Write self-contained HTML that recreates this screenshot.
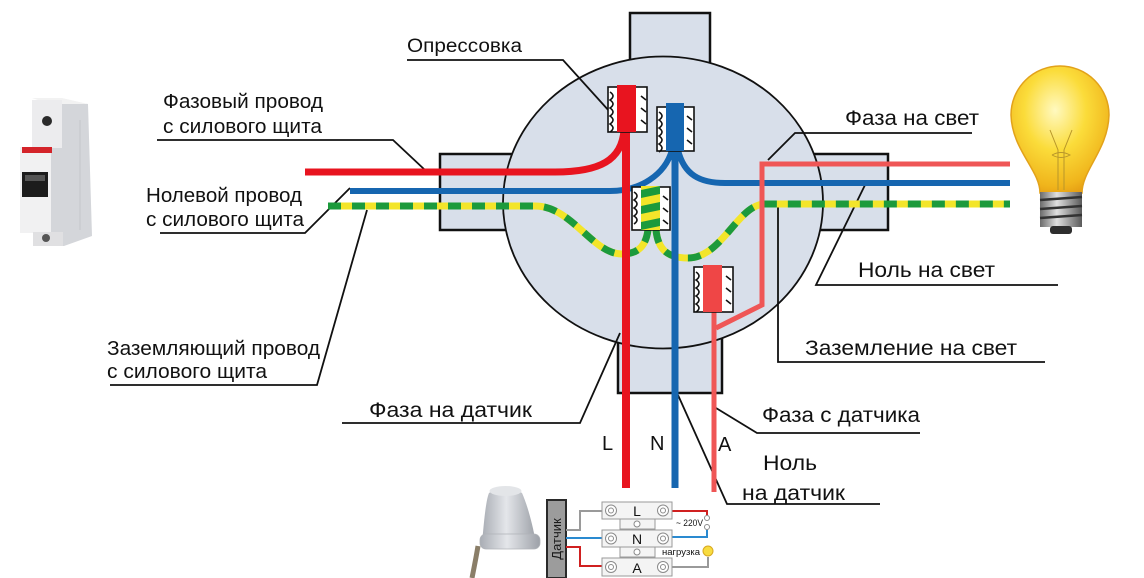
<!DOCTYPE html>
<html><head><meta charset="utf-8"><style>
html,body{margin:0;padding:0;background:#fff;}
svg{display:block;}
text{font-family:"Liberation Sans",Arial,sans-serif;fill:#111;}
</style></head><body>
<svg width="1144" height="578" viewBox="0 0 1144 578" xmlns="http://www.w3.org/2000/svg">
<defs>
<radialGradient id="bulbG" cx="0.45" cy="0.35" r="0.7">
<stop offset="0" stop-color="#fff9c0"/><stop offset="0.45" stop-color="#fbdc3a"/><stop offset="0.85" stop-color="#f0b51c"/><stop offset="1" stop-color="#e49a12"/>
</radialGradient>
<linearGradient id="baseG" x1="0" x2="1"><stop offset="0" stop-color="#6b6b6b"/><stop offset="0.4" stop-color="#e0e0e0"/><stop offset="1" stop-color="#5a5a5a"/></linearGradient>
<linearGradient id="capG" x1="0" x2="1"><stop offset="0" stop-color="#a9adb4"/><stop offset="0.45" stop-color="#e4e6ea"/><stop offset="1" stop-color="#9da1a8"/></linearGradient>
</defs>
<rect width="1144" height="578" fill="#fff"/>

<!-- Breaker -->
<polygon points="50,100 88,104 92,236 64,246 50,246" fill="#d4d6da"/>
<polygon points="32,98 62,98 88,104 50,104" fill="#f2f2f2"/>
<rect x="32" y="100" width="30" height="48" fill="#ececee"/>
<circle cx="47" cy="121" r="5" fill="#2a2a2a"/>
<rect x="20" y="147" width="31" height="86" fill="#f1f1f2"/>
<rect x="22" y="147" width="30" height="6" fill="#d4242a"/>
<rect x="22" y="172" width="26" height="25" fill="#1c1c1c"/>
<rect x="25" y="175" width="20" height="6" fill="#555"/>
<rect x="33" y="232" width="30" height="14" fill="#e0e0e2"/>
<circle cx="46" cy="238" r="4" fill="#555"/>
<line x1="80" y1="120" x2="80" y2="230" stroke="#c4c6ca" stroke-width="1"/>

<!-- Box rectangles -->
<rect x="630" y="13" width="80" height="80" fill="#d8dfea" stroke="#111" stroke-width="2.5"/>
<rect x="440" y="154" width="110" height="76" fill="#d8dfea" stroke="#111" stroke-width="2.5"/>
<rect x="780" y="154" width="108" height="76" fill="#d8dfea" stroke="#111" stroke-width="2.5"/>
<rect x="618" y="290" width="104" height="103" fill="#d8dfea" stroke="#111" stroke-width="2.5"/>
<ellipse cx="663" cy="202.5" rx="160" ry="146" fill="#d8dfea" stroke="#111" stroke-width="1.8"/>

<!-- Leader lines -->
<g fill="none" stroke="#111" stroke-width="1.8">
<polyline points="407,60 563,60 610,112"/>
<polyline points="157,140 393,140 425,170"/>
<polyline points="160,233 305,233 350,188"/>
<polyline points="110,385 317,385 367,210"/>
<polyline points="972,133 795,133 768,160"/>
<polyline points="1058,285 816,285 865,185"/>
<polyline points="1045,362 778,362 778,207"/>
<polyline points="342,423 580,423 620,333"/>
<polyline points="920,433 757,433 716,408"/>
<polyline points="880,504 727,504 678,395"/>
</g>

<!-- Wires -->
<g fill="none" stroke-linecap="butt">
<path d="M328,206 H535 C572,206 592,254 622,254 C640,254 646,244 648,230" stroke="#f3e52a" stroke-width="7"/>
<path d="M328,206 H535 C572,206 592,254 622,254 C640,254 646,244 648,230" stroke="#1c9a3c" stroke-width="7" stroke-dasharray="13,11"/>
<path d="M656,230 C658,250 668,258 688,258 C722,258 738,204 765,204 H1010" stroke="#f3e52a" stroke-width="7"/>
<path d="M656,230 C658,250 668,258 688,258 C722,258 738,204 765,204 H1010" stroke="#1c9a3c" stroke-width="7" stroke-dasharray="13,11"/>
<path d="M350,191 H610 C640,191 665,175 672,150" stroke="#1666b0" stroke-width="6"/>
<path d="M678,150 C684,175 700,183 725,183 H1010" stroke="#1666b0" stroke-width="6"/>
<path d="M305,172 H555 C600,172 622,160 624,130" stroke="#e8141f" stroke-width="7"/>
<line x1="626" y1="90" x2="626" y2="488" stroke="#e8141f" stroke-width="8"/>
<line x1="675" y1="110" x2="675" y2="488" stroke="#1666b0" stroke-width="7"/>
<line x1="714" y1="300" x2="714" y2="492" stroke="#ef5656" stroke-width="5"/>
<path d="M716,328 L762,305 V164 H1010" stroke="#ef5656" stroke-width="5"/>
</g>

<!-- Crimps -->
<g stroke="#111" stroke-width="1.6">
<rect x="608" y="87" width="39" height="45" fill="#fff"/>
<rect x="657" y="107" width="37" height="44" fill="#fff"/>
<rect x="632" y="187" width="38" height="43" fill="#fff"/>
<rect x="694" y="267" width="39" height="45" fill="#fff"/>
</g>
<g fill="none" stroke="#111" stroke-width="1.6">
<path d="M610,92 q6,4 0,8 q6,4 0,8 q6,4 0,8 q6,4 0,8 q6,4 0,8"/>
<path d="M641,96 l5,4 M641,108 l5,4 M641,120 l5,4"/>
<path d="M659,112 q6,4 0,8 q6,4 0,8 q6,4 0,8 q6,4 0,8 q6,4 0,8"/>
<path d="M687,116 l5,4 M687,128 l5,4 M687,140 l5,4"/>
<path d="M634,192 q6,4 0,8 q6,4 0,8 q6,4 0,8 q6,4 0,8"/>
<path d="M663,196 l5,4 M663,208 l5,4 M663,220 l5,4"/>
<path d="M696,272 q6,4 0,8 q6,4 0,8 q6,4 0,8 q6,4 0,8 q6,4 0,8"/>
<path d="M726,276 l5,4 M726,288 l5,4 M726,300 l5,4"/>
</g>
<rect x="617" y="85" width="19" height="47" fill="#e8141f"/>
<rect x="666" y="103" width="18" height="48" fill="#1666b0"/>
<rect x="641" y="186" width="19" height="44" fill="#f3e52a"/>
<path d="M641,190 l19,-4 v8 l-19,4 z M641,206 l19,-4 v8 l-19,4 z M641,222 l19,-4 v8 l-19,4 z" fill="#1c9a3c"/>
<rect x="703" y="265" width="19" height="47" fill="#ef4646"/>

<!-- Bulb -->
<path d="M1040,193 C1040,170 1012,150 1011,115 A49,49 0 1 1 1109,115 C1108,150 1082,170 1082,193 Z" fill="url(#bulbG)" stroke="#e2a21a" stroke-width="1.5"/>
<g fill="none" stroke="#b8962a" stroke-width="1">
<path d="M1050,130 L1058,150 L1058,190 M1072,130 L1064,150 L1064,190"/>
<path d="M1052,155 q9,-5 18,0 q-9,5 -18,0"/>
</g>
<rect x="1040" y="192" width="42" height="35" fill="url(#baseG)"/>
<g stroke="#333" stroke-width="2.5">
<line x1="1040" y1="200" x2="1082" y2="197"/>
<line x1="1040" y1="209" x2="1082" y2="206"/>
<line x1="1040" y1="218" x2="1082" y2="215"/>
</g>
<rect x="1050" y="226" width="22" height="8" rx="3" fill="#2e2e2e"/>

<!-- Sensor cap -->
<path d="M482,544 C484,520 486,500 489,493 Q505,482 522,493 C526,502 532,520 536,544 Z" fill="url(#capG)"/>
<rect x="480" y="534" width="60" height="15" rx="6" fill="url(#capG)" stroke="#b0b3b8" stroke-width="0.8"/>
<ellipse cx="505.5" cy="491" rx="16" ry="5" fill="#e3e5e8"/>
<path d="M478,546 C476,558 474,568 472,578" stroke="#8a7e68" stroke-width="5" fill="none"/>

<!-- Datchik box -->
<rect x="547" y="500" width="19" height="78" fill="#9c9c9c" stroke="#2a2a2a" stroke-width="2"/>
<text x="556.5" y="539" transform="rotate(-90 556.5 539)" text-anchor="middle" dominant-baseline="central" font-size="13" style="fill:#1a1a1a">Датчик</text>

<!-- terminal wiring -->
<g fill="none" stroke-width="2">
<path d="M566,530 H580 V511 H603" stroke="#9a9a9a"/>
<path d="M566,538 H603" stroke="#2a8ad0"/>
<path d="M566,547 H580 V566 H603" stroke="#d02020"/>
<path d="M672,511 H707 V515" stroke="#d02020"/>
<path d="M672,537 H707 V530" stroke="#2a8ad0"/>
<path d="M672,567 H708 V557" stroke="#9a9a9a"/>
</g>
<g fill="#f4f4f4" stroke="#9a9a9a" stroke-width="1">
<rect x="602" y="502" width="70" height="17"/>
<rect x="620" y="519" width="35" height="10"/>
<rect x="602" y="530" width="70" height="17"/>
<rect x="620" y="547" width="35" height="10"/>
<rect x="602" y="558" width="70" height="18"/>
</g>
<g fill="#fff" stroke="#8a8a8a" stroke-width="1">
<circle cx="637" cy="524" r="3"/><circle cx="637" cy="552" r="3"/>
<circle cx="611" cy="510.5" r="5.5"/><circle cx="663" cy="510.5" r="5.5"/>
<circle cx="611" cy="538.5" r="5.5"/><circle cx="663" cy="538.5" r="5.5"/>
<circle cx="611" cy="567" r="5.5"/><circle cx="663" cy="567" r="5.5"/>
<circle cx="611" cy="510.5" r="2.5"/><circle cx="663" cy="510.5" r="2.5"/>
<circle cx="611" cy="538.5" r="2.5"/><circle cx="663" cy="538.5" r="2.5"/>
<circle cx="611" cy="567" r="2.5"/><circle cx="663" cy="567" r="2.5"/>
<circle cx="707" cy="518" r="2.5"/><circle cx="707" cy="527" r="2.5"/>
</g>
<circle cx="708" cy="551" r="5" fill="#f8dc40" stroke="#d8a820" stroke-width="1"/>
<text x="637" y="516" text-anchor="middle" font-size="14">L</text>
<text x="637" y="544" text-anchor="middle" font-size="14">N</text>
<text x="637" y="573" text-anchor="middle" font-size="14">A</text>
<text x="676" y="526" font-size="9" textLength="27" lengthAdjust="spacingAndGlyphs">~ 220V</text>
<text x="662" y="555" font-size="9" textLength="38" lengthAdjust="spacingAndGlyphs">нагрузка</text>

<!-- Labels -->
<g font-size="20">
<text x="407" y="52" font-size="19" textLength="115" lengthAdjust="spacingAndGlyphs">Опрессовка</text>
<text x="163" y="108" textLength="160" lengthAdjust="spacingAndGlyphs">Фазовый провод</text>
<text x="163" y="133" textLength="159" lengthAdjust="spacingAndGlyphs">с силового щита</text>
<text x="146" y="202" textLength="156" lengthAdjust="spacingAndGlyphs">Нолевой провод</text>
<text x="146" y="226" textLength="158" lengthAdjust="spacingAndGlyphs">с силового щита</text>
<text x="107" y="355" textLength="213" lengthAdjust="spacingAndGlyphs">Заземляющий провод</text>
<text x="107" y="378" textLength="160" lengthAdjust="spacingAndGlyphs">с силового щита</text>
<text x="845" y="125" font-size="21" textLength="134" lengthAdjust="spacingAndGlyphs">Фаза на свет</text>
<text x="858" y="277" font-size="21" textLength="137" lengthAdjust="spacingAndGlyphs">Ноль на свет</text>
<text x="805" y="355" font-size="21" textLength="212" lengthAdjust="spacingAndGlyphs">Заземление на свет</text>
<text x="369" y="417" font-size="21" textLength="163" lengthAdjust="spacingAndGlyphs">Фаза на датчик</text>
<text x="762" y="422" font-size="21" textLength="158" lengthAdjust="spacingAndGlyphs">Фаза с датчика</text>
<text x="763" y="470" font-size="21" textLength="54" lengthAdjust="spacingAndGlyphs">Ноль</text>
<text x="742" y="500" font-size="21" textLength="103" lengthAdjust="spacingAndGlyphs">на датчик</text>
<text x="602" y="450" font-size="20">L</text>
<text x="650" y="450" font-size="20">N</text>
<text x="718" y="451" font-size="20">A</text>
</g>
</svg>
</body></html>
